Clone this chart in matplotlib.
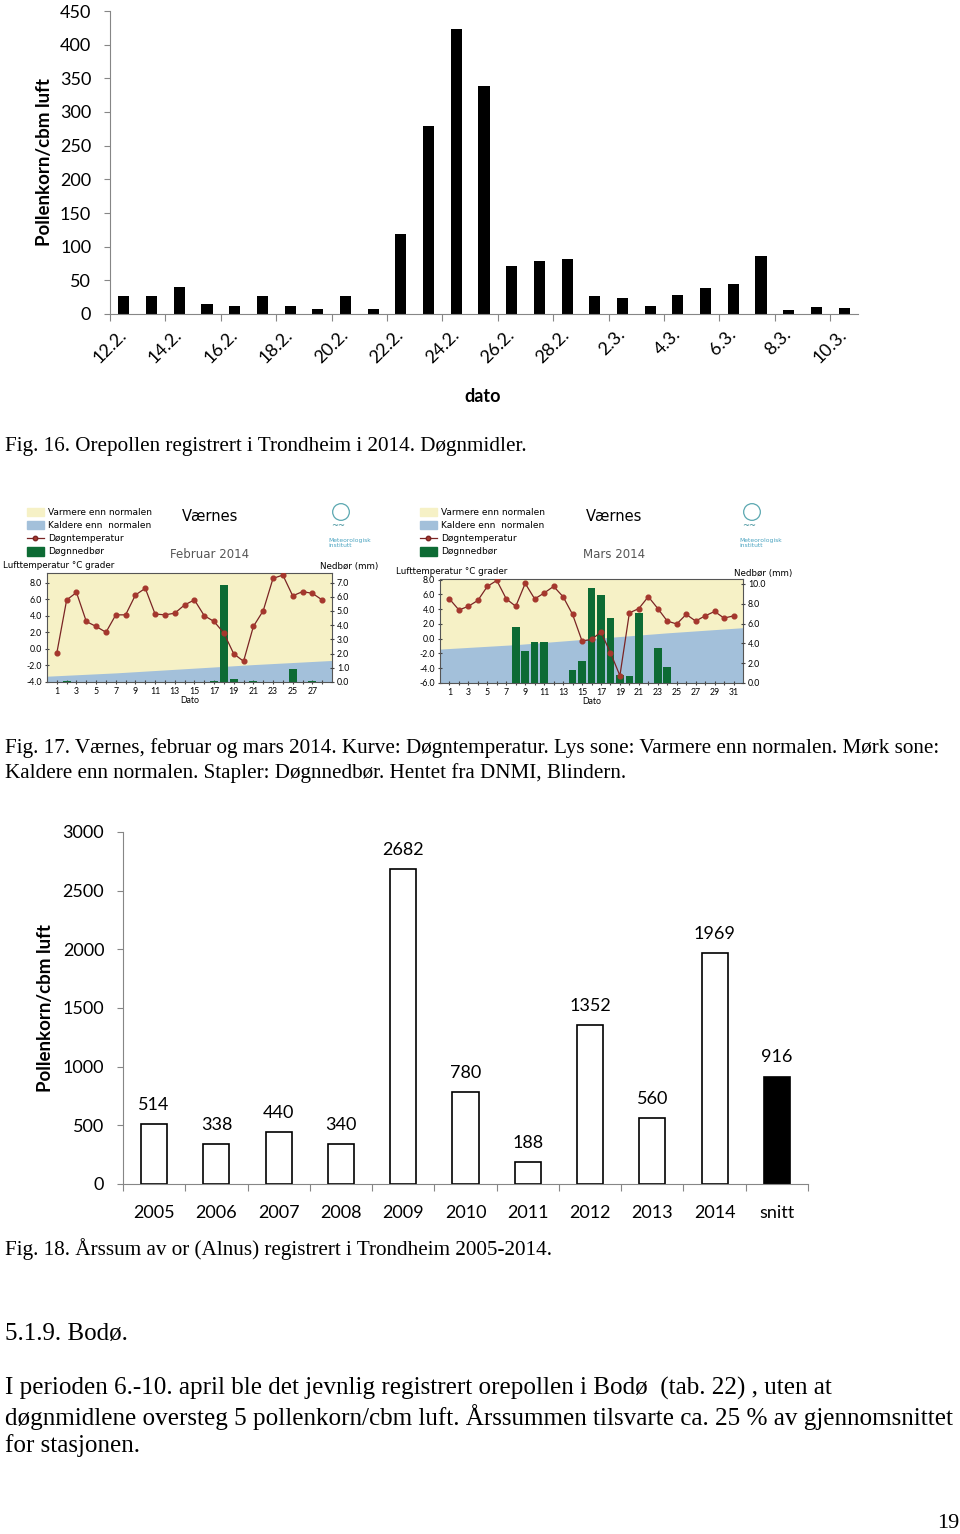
import numpy as np
import matplotlib
matplotlib.use('Agg')
import matplotlib.pyplot as plt
from matplotlib.patches import Patch, Circle
from matplotlib.lines import Line2D

plt.rcParams['font.family'] = ['Lato', 'DejaVu Sans']

W, H = 960, 1534

# --- data: fig 16, daily pollen counts ---
dates = ['12.2.', '13.2.', '14.2.', '15.2.', '16.2.', '17.2.', '18.2.', '19.2.', '20.2.',
         '21.2.', '22.2.', '23.2.', '24.2.', '25.2.', '26.2.', '27.2.', '28.2.',
         '1.3.', '2.3.', '3.3.', '4.3.', '5.3.', '6.3.', '7.3.', '8.3.', '9.3.', '10.3.']
pollen_daily = [27, 27, 40, 15, 12, 27, 12, 7, 27, 7, 119, 279, 424, 339, 72, 79, 81,
                27, 24, 12, 28, 38, 45, 86, 6, 10, 9]

# --- data: fig 17, Værnes weather ---
feb_days = list(range(1, 29))
feb_temp = [-0.5, 5.9, 6.8, 3.3, 2.7, 2.0, 4.1, 4.1, 6.5, 7.3, 4.2, 4.1, 4.3, 5.3,
            5.9, 4.0, 3.3, 1.9, -0.6, -1.5, 2.7, 4.6, 8.5, 8.9, 6.4, 6.9, 6.7, 5.9]
feb_rain = [0, 0.05, 0, 0, 0, 0, 0, 0, 0, 0, 0, 0, 0, 0, 0, 0, 0.05, 6.8, 0.2, 0,
            0.05, 0, 0, 0, 0.9, 0, 0.05, 0]
feb_norm_days = [0, 7, 14, 21, 29]
feb_norm = [-3.3, -2.9, -2.4, -1.9, -1.4]

mar_days = list(range(1, 32))
mar_temp = [5.4, 3.9, 4.4, 5.2, 7.1, 7.9, 5.4, 4.4, 7.5, 5.4, 6.2, 7.1, 5.7, 3.3,
            -0.3, -0.1, 0.9, -1.9, -5.0, 3.5, 4.1, 5.7, 4.1, 2.4, 2.0, 3.3, 2.4, 3.1,
            3.7, 2.8, 3.1]
mar_rain = [0, 0, 0, 0, 0, 0.05, 0.05, 5.7, 3.2, 4.1, 4.15, 0.05, 0.05, 1.3, 2.2,
            9.6, 8.9, 6.6, 0.85, 0.75, 7.1, 0, 3.5, 1.6, 0.05, 0, 0, 0, 0, 0, 0.05]
mar_norm_days = [0, 8, 16, 24, 32]
mar_norm = [-1.4, -0.8, 0.0, 0.8, 1.5]

# --- data: fig 18, yearly sums ---
years = ['2005', '2006', '2007', '2008', '2009', '2010', '2011', '2012', '2013', '2014', 'snitt']
year_sums = [514, 338, 440, 340, 2682, 780, 188, 1352, 560, 1969, 916]

GRAY = '#868686'
SERIF = 'Liberation Serif'


def box(x0, y0, x1, y1):
    return [x0 / W, 1 - y1 / H, (x1 - x0) / W, (y1 - y0) / H]


def ftext(x, y, s, **kw):
    fig.text(x / W, 1 - y / H, s, **kw)


fig = plt.figure(figsize=(W / 100, H / 100), dpi=100)

# ---------------- Fig 16 ----------------
ax1 = fig.add_axes(box(110, 11, 858, 314))
x = np.arange(len(dates))
ax1.bar(x, pollen_daily, width=0.4, color='black')
ax1.set_xlim(-0.5, len(dates) - 0.5)
ax1.set_ylim(0, 450)
ax1.set_yticks(range(0, 451, 50))
ax1.set_xticks(np.arange(-0.5, len(dates) - 1, 2))
ax1.set_xticklabels([])
ax1.set_xticks(x[::2], minor=True)
ax1.set_xticklabels(dates[::2], minor=True, rotation=45, ha='right', va='center',
                    rotation_mode='anchor')
for s in ['top', 'right']:
    ax1.spines[s].set_visible(False)
for s in ['left', 'bottom']:
    ax1.spines[s].set_color(GRAY)
ax1.tick_params(axis='y', length=4.5, color=GRAY, labelsize=13, pad=9)
ax1.tick_params(axis='x', which='major', length=5, color=GRAY)
ax1.tick_params(axis='x', which='minor', length=0, labelsize=13, pad=13)
ax1.set_ylabel('Pollenkorn/cbm luft', fontsize=13.5, fontweight='bold', labelpad=5)
ftext(483, 396, 'dato', fontsize=13, fontweight='bold', ha='center', va='center')

ftext(5, 446, 'Fig. 16. Orepollen registrert i Trondheim i 2014. Døgnmidler.',
      family=SERIF, fontsize=15.2, va='center')


# ---------------- Fig 17 ----------------
def weather(plot_box, days, temp, rain, norm_days, norm, xmax, tlim, rlim, rticks,
            month, ox, title_x, logo_x, right_x):
    ax = fig.add_axes(box(*plot_box))
    ax.set_facecolor('#f6f1c6')
    ax.fill_between(norm_days, tlim[0], norm, color='#a3c0da', lw=0)
    ax.set_xlim(0, xmax)
    ax.set_ylim(*tlim)
    ax.set_yticks(np.arange(tlim[0], 8.01, 2))
    ax.set_yticklabels(['%.1f' % v for v in np.arange(tlim[0], 8.01, 2)])
    ax.set_xticks(days)
    ax.set_xticklabels([str(d) if d % 2 == 1 else '' for d in days])
    ax.tick_params(axis='both', labelsize=6.3, length=3, direction='inout', color='#444444',
                   pad=2)
    for s in ax.spines.values():
        s.set_color('#555555')
        s.set_linewidth(0.8)
    ax.set_xlabel('Dato', fontsize=6.3, labelpad=0)

    axr = ax.twinx()
    axr.bar(days, rain, width=0.8, color='#0d6b34')
    axr.set_ylim(*rlim)
    axr.set_yticks(rticks)
    axr.set_yticklabels(['%.1f' % v for v in rticks])
    axr.tick_params(labelsize=6.3, length=3, direction='inout', color='#444444', pad=2)
    for s in axr.spines.values():
        s.set_visible(False)

    axl = ax.twinx()
    axl.plot(days, temp, color='#7a2424', lw=0.9, marker='o', ms=3.4,
             mfc='#a5372d', mec='#a5372d')
    axl.set_ylim(*tlim)
    axl.axis('off')
    axl.set_xlim(0, xmax)

    handles = [Patch(color='#f6f1c6'), Patch(color='#a3c0da'),
               Line2D([], [], color='#7a2424', marker='o', ms=3.2, mfc='#a5372d', lw=0.9),
               Patch(color='#0d6b34')]
    labels = ['Varmere enn normalen', 'Kaldere enn  normalen', 'Døgntemperatur', 'Døgnnedbør']
    fig.legend(handles, labels, loc='upper left',
               bbox_to_anchor=((ox + 22) / W, 1 - 503 / H), frameon=False,
               handlelength=1.9, handleheight=1.1, labelspacing=0.42,
               handletextpad=0.5, borderpad=0, prop={'family': 'DejaVu Sans', 'size': 6.5})
    ftext(title_x, 516, 'Værnes', family='DejaVu Sans', fontsize=10.5, ha='center',
          va='center')
    ftext(title_x, 554, month, family='DejaVu Sans', fontsize=8.5, color='#555555',
          ha='center', va='center')
    ftext(ox + 3, plot_box[1] - 7, 'Lufttemperatur °C grader', family='DejaVu Sans',
          fontsize=6.3, va='center')
    ftext(right_x, plot_box[1] - 6, 'Nedbør (mm)', family='DejaVu Sans', fontsize=6.3,
          ha='right', va='center')
    lg = fig.add_axes(box(logo_x - 12, 502, logo_x + 12, 522))
    lg.set_xlim(-1.2, 1.2)
    lg.set_ylim(-1.2, 1.2)
    lg.set_aspect('equal')
    lg.add_patch(Circle((0, 0), 1, fill=False, ec='#5aa7b0', lw=0.9))
    lg.axis('off')
    ftext(logo_x - 3, 526, '~~', family='DejaVu Sans', fontsize=6, color='#3f8f9a',
          ha='center', va='center')
    ftext(logo_x - 13, 543, 'Meteorologisk\ninstitutt', family='DejaVu Sans', fontsize=4.3,
          color='#4aa3c0', va='center', linespacing=1.1)


weather((47, 573, 332, 682), feb_days, feb_temp, feb_rain, feb_norm_days, feb_norm,
        29, (-4, 9.15), (0, 7.67), np.arange(0, 7.01, 1.0), 'Februar 2014', 0, 210, 341, 378)
weather((440, 579, 743, 683), mar_days, mar_temp, mar_rain, mar_norm_days, mar_norm,
        32, (-6, 8.1), (0, 10.5), np.arange(0, 10.01, 2.0), 'Mars 2014', 393, 614, 752, 792)

ftext(5, 748, 'Fig. 17. Værnes, februar og mars 2014. Kurve: Døgntemperatur. Lys sone: '
      'Varmere enn normalen. Mørk sone:', family=SERIF, fontsize=15.2, va='center')
ftext(5, 773, 'Kaldere enn normalen. Stapler: Døgnnedbør. Hentet fra DNMI, Blindern.',
      family=SERIF, fontsize=15.2, va='center')

# ---------------- Fig 18 ----------------
ax3 = fig.add_axes(box(123, 832, 808, 1184))
xy = np.arange(len(years))
colors = ['white'] * (len(years) - 1) + ['black']
ax3.bar(xy, year_sums, width=0.42, color=colors, edgecolor='black', linewidth=1.2)
for xi, v in zip(xy, year_sums):
    ax3.annotate(str(v), (xi, v), xytext=(0, 8), textcoords='offset points',
                 ha='center', va='bottom', fontsize=13)
ax3.set_xlim(-0.5, len(years) - 0.5)
ax3.set_ylim(0, 3000)
ax3.set_yticks(range(0, 3001, 500))
ax3.set_xticks(np.arange(-0.5, len(years), 1))
ax3.set_xticklabels([])
ax3.set_xticks(xy, minor=True)
ax3.set_xticklabels(years, minor=True)
for s in ['top', 'right']:
    ax3.spines[s].set_visible(False)
for s in ['left', 'bottom']:
    ax3.spines[s].set_color(GRAY)
ax3.tick_params(axis='y', length=4.5, color=GRAY, labelsize=13, pad=9)
ax3.tick_params(axis='x', which='major', length=5, color=GRAY)
ax3.tick_params(axis='x', which='minor', length=0, labelsize=13, pad=15)
ax3.set_ylabel('Pollenkorn/cbm luft', fontsize=13.5, fontweight='bold', labelpad=6)

ftext(5, 1249, 'Fig. 18. Årssum av or (Alnus) registrert i Trondheim 2005-2014.',
      family=SERIF, fontsize=15.2, va='center')

ftext(5, 1334, '5.1.9. Bodø.', family=SERIF, fontsize=18, va='center')
para = ['I perioden 6.-10. april ble det jevnlig registrert orepollen i Bodø  (tab. 22) , uten at',
        'døgnmidlene oversteg 5 pollenkorn/cbm luft. Årssummen tilsvarte ca. 25 % av gjennomsnittet',
        'for stasjonen.']
for i, line in enumerate(para):
    ftext(5, 1388 + 29 * i, line, family=SERIF, fontsize=18.1, va='center')

ftext(948, 1524, '19', family=SERIF, fontsize=16, ha='center', va='center')

fig.savefig('out.png', dpi=100)
